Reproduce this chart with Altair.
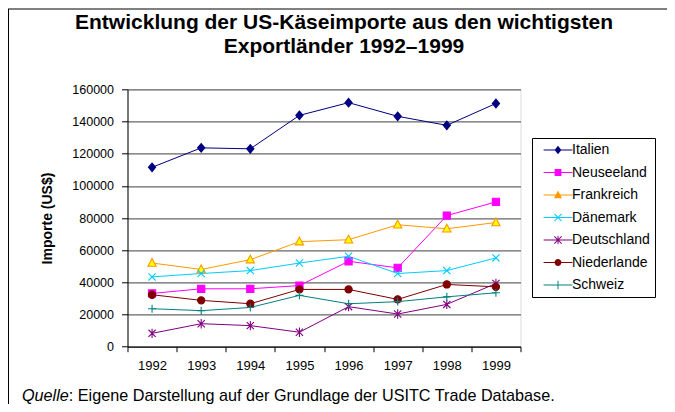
import altair as alt
import pandas as pd

# ---------------- data ----------------
years = ["1992", "1993", "1994", "1995", "1996", "1997", "1998", "1999"]
countries = ["Italien", "Neuseeland", "Frankreich", "Dänemark", "Deutschland", "Niederlande", "Schweiz"]

italien = [111500, 123600, 123000, 143800, 151700, 143200, 137600, 151200]
neuseeland = [33100, 36000, 36000, 38000, 53100, 49000, 81500, 90000]
frankreich = [52000, 48000, 54100, 65300, 66500, 75800, 73300, 77200]
daenemark = [43400, 45500, 47300, 52000, 56200, 45500, 47300, 55200]
deutschland = [8300, 14300, 13100, 9000, 24900, 20300, 26300, 39300]
niederlande = [32300, 28800, 26700, 35600, 35600, 29400, 38700, 37200]
schweiz = [23600, 22400, 24400, 31900, 26700, 28000, 31000, 33500]
series = [italien, neuseeland, frankreich, daenemark, deutschland, niederlande, schweiz]

y_ticks = [0, 20000, 40000, 60000, 80000, 100000, 120000, 140000, 160000]
title_lines = ["Entwicklung der US-Käseimporte aus den wichtigsten", "Exportländer 1992–1999"]
y_title = "Importe (US$)"
source_prefix = ["Quelle"]
source_rest = [": Eigene Darstellung auf der Grundlage der USITC Trade Database."]

# ---------------- styles ----------------
line_colors = ["#000080", "#FF00FF", "#FF9900", "#00CCFF", "#800080", "#800000", "#008080"]
marker_fills = ["#000080", "#FF00FF", "#FFFF00", "transparent", "transparent", "#800000", "transparent"]

plot_shapes = [
    "M0,-1.2L1,0L0,1.2L-1,0Z",
    "M-1,-1H1V1H-1Z",
    "M0,-1.25L1.15,0.9H-1.15Z",
    "M-1,-1L1,1M-1,1L1,-1",
    "M-1,-1L1,1M-1,1L1,-1M0,-1.3V1.3",
    "circle",
    "M-1.1,0H1.1M0,-1.1V1.1",
]

bar = "M-3.6,-0.125H3.6V0.125H-3.6Z"
xbars = ("M-0.815,-0.985L0.985,0.815L0.815,0.985L-0.985,-0.815Z"
         "M-0.985,0.815L0.815,-0.985L0.985,-0.815L-0.815,0.985Z")
vbar = "M-0.12,-1.05H0.12V1.05H-0.12Z"
legend_shapes = [
    bar + "M0,-1.05L0.85,0L0,1.05L-0.85,0Z",
    bar + "M-0.85,-0.85H0.85V0.85H-0.85Z",
    bar + "M0,-1.1L1,0.8H-1Z",
    bar + xbars,
    bar + xbars + vbar,
    bar + "M0.85,0A0.85,0.85 0 1,1 -0.85,0A0.85,0.85 0 1,1 0.85,0Z",
    bar + "M-1,-0.12H1V0.12H-1Z" + vbar,
]

FONT = "Liberation Sans"
W, H = 393, 257.4

rows = []
for land, vals in zip(countries, series):
    for yr, v in zip(years, vals):
        rows.append({"Land": land, "Jahr": yr, "Wert": v})
df = pd.DataFrame(rows)

x_enc = alt.X(
    "Jahr:O",
    scale=alt.Scale(type="band", domain=years, paddingInner=0, paddingOuter=0),
    axis=alt.Axis(
        title=None, labelAngle=0, labelFont=FONT, labelFontSize=13, labelColor="black",
        tickBand="extent", tickSize=5, tickColor="black", domainColor="black",
        labelPadding=8, grid=False,
    ),
)
y_enc = alt.Y(
    "Wert:Q",
    scale=alt.Scale(domain=[0, 160000], nice=False),
    axis=alt.Axis(
        title=y_title, values=y_ticks, format="d", labelFont=FONT, labelFontSize=12.5,
        labelColor="black", tickSize=6, tickColor="black", domainColor="black",
        labelPadding=8, grid=True, gridColor="#666666", gridWidth=1.2,
        titleFont=FONT, titleFontSize=14, titleFontWeight="bold", titleColor="black",
        titleAngle=270, titleBaseline="middle", titleX=-80, titleY=H / 2,
    ),
)

color_scale = alt.Scale(domain=countries, range=line_colors)

lines = alt.Chart(df).mark_line(strokeWidth=1).encode(
    x=x_enc, y=y_enc,
    color=alt.Color("Land:N", scale=color_scale, legend=None),
)

points = alt.Chart(df).mark_point(filled=False, opacity=1, strokeWidth=1.1, size=52).encode(
    x=x_enc, y=y_enc,
    color=alt.Color("Land:N", scale=color_scale, legend=None),
    fill=alt.Fill("Land:N", scale=alt.Scale(domain=countries, range=marker_fills), legend=None),
    shape=alt.Shape("Land:N", scale=alt.Scale(domain=countries, range=plot_shapes), legend=None),
)

leg = alt.Legend(
    title=None, orient="none", legendX=404.5, legendY=48.7,
    strokeColor="black", fillColor="white", padding=5,
    labelFont=FONT, labelFontSize=14, labelColor="black", labelLimit=300,
    symbolSize=64, symbolStrokeWidth=0, rowPadding=8.5,
    symbolOffset=14, labelOffset=7,
)
legend_layer = alt.Chart(df).transform_filter("false").mark_point(filled=True, opacity=1, size=64).encode(
    x=x_enc, y=y_enc,
    color=alt.Color("Land:N", scale=color_scale, legend=leg),
    shape=alt.Shape("Land:N", scale=alt.Scale(domain=countries, range=legend_shapes), legend=leg),
)

dummy = pd.DataFrame({"a": [0]})
frame_left = alt.Chart(dummy).mark_rule(color="black", strokeWidth=1).encode(
    x=alt.value(-119), y=alt.value(-80.3), y2=alt.value(316)
)
frame_top = alt.Chart(dummy).mark_rule(color="black", strokeWidth=1).encode(
    x=alt.value(-119.5), x2=alt.value(540), y=alt.value(-80.3)
)

src1 = alt.Chart(pd.DataFrame({"t": source_prefix})).mark_text(
    font=FONT, fontSize=16.2, fontStyle="italic", align="left", baseline="alphabetic", color="black"
).encode(text="t:N", x=alt.value(-105.5), y=alt.value(311.5))
src2 = alt.Chart(pd.DataFrame({"t": source_rest})).mark_text(
    font=FONT, fontSize=16.2, align="left", baseline="alphabetic", color="black"
).encode(text="t:N", x=alt.value(-58.7), y=alt.value(311.5))

chart = alt.layer(
    frame_left, frame_top, lines, points, legend_layer, src1, src2
).resolve_scale(
    color="independent", shape="independent", fill="independent"
).properties(
    width=W, height=H,
    autosize=alt.AutoSizeParams(type="none"),
    padding={"left": 119.5, "top": 81.3, "right": 146.5, "bottom": 57.3},
    title=alt.TitleParams(
        text=title_lines, font=FONT, fontSize=21, fontWeight="bold", color="black",
        anchor="middle", frame="group", dx=20, offset=-48, lineHeight=24,
    ),
).configure_view(
    stroke="#808080", strokeWidth=1
).configure(background="white")

chart.save("out.html", embed_options={"renderer": "svg", "actions": False})
